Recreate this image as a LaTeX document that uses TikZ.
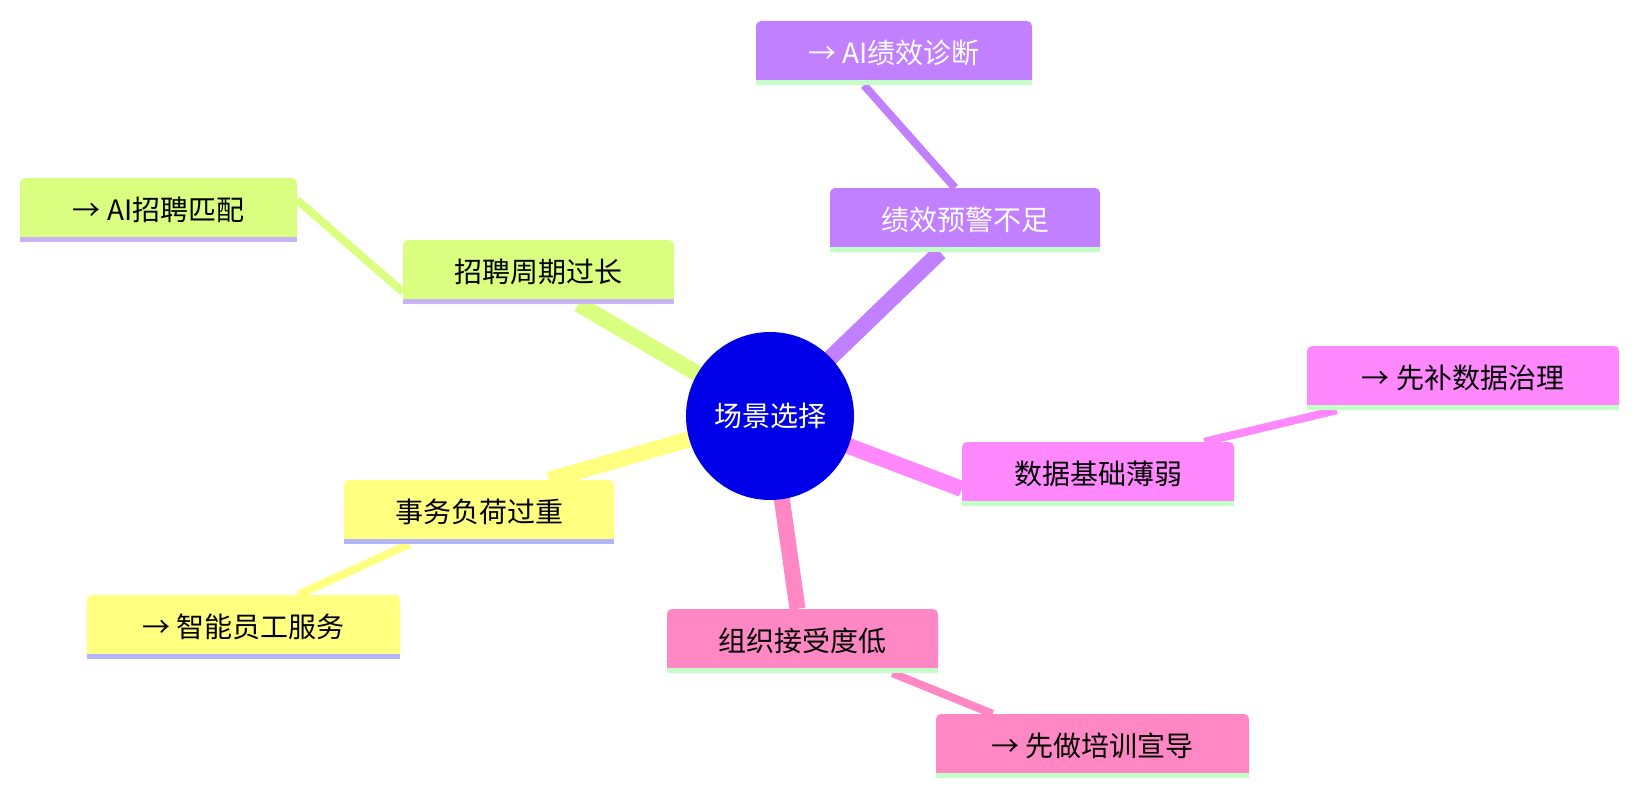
\documentclass[tikz,border=0pt]{standalone}
\usepackage{fontspec}
\setmainfont{Noto Sans CJK SC}
\usetikzlibrary{backgrounds}
\definecolor{cpur}{HTML}{C080FF}
\definecolor{cgrn}{HTML}{DAFF80}
\definecolor{cyel}{HTML}{FFFF80}
\definecolor{cpnk}{HTML}{FF88C4}
\definecolor{cmag}{HTML}{FF88FF}
\definecolor{ulg}{HTML}{C4FFC8}
\definecolor{ulp}{HTML}{C8B4F4}
\definecolor{ulb}{HTML}{B4B4F8}
\definecolor{cblue}{HTML}{0000E8}
\tikzset{
 box/.style={fill=#1,rounded corners=5pt,minimum height=64pt,inner sep=0pt,font=\fontsize{28}{30}\selectfont},
 main/.style={line width=16pt},
 sub/.style={line width=8pt},
}
\newcommand{\ul}[2]{\fill[#2] (#1.south west) rectangle ([yshift=5pt]#1.south east);}
\begin{document}
\begin{tikzpicture}[x=1pt,y=-1pt]
\useasboundingbox (0,0) rectangle (1639,800);
\node[circle,fill=cblue,minimum size=168pt,text=white,font=\fontsize{28}{30}\selectfont] (c) at (770,416) {场景选择};
\node[box=cpur,minimum width=270pt,text=white] (p1) at (965,220) {绩效预警不足};
\node[box=cpur,minimum width=276pt,text=white] (p2) at (894,53) {→ AI绩效诊断};
\node[box=cgrn,minimum width=271pt] (g1) at (538.5,272) {招聘周期过长};
\node[box=cgrn,minimum width=277pt] (g2) at (158.5,210) {→ AI招聘匹配};
\node[box=cyel,minimum width=270pt] (y1) at (479,512) {事务负荷过重};
\node[box=cyel,minimum width=313pt] (y2) at (243.5,627) {→ 智能员工服务};
\node[box=cpnk,minimum width=271pt] (k1) at (802.5,641) {组织接受度低};
\node[box=cpnk,minimum width=313pt] (k2) at (1092.5,746) {→ 先做培训宣导};
\node[box=cmag,minimum width=272pt] (m1) at (1098,474) {数据基础薄弱};
\node[box=cmag,minimum width=312pt] (m2) at (1463,378) {→ 先补数据治理};
\ul{p1}{ulg}\ul{p2}{ulg}\ul{g1}{ulp}\ul{g2}{ulp}\ul{y1}{ulb}\ul{y2}{ulb}
\ul{k1}{ulg}\ul{k2}{ulg}\ul{m1}{ulg}\ul{m2}{ulg}
\begin{pgfonlayer}{background}
\draw[main,cpur] (c.center) -- ([xshift=-25pt]p1.south);
\draw[main,cgrn] (c.center) -- ([xshift=40pt]g1.south);
\draw[main,cyel] (c.center) -- ([xshift=70pt]y1.north);
\draw[main,cpnk] (c.center) -- ([xshift=-5pt]k1.north);
\draw[main,cmag] (c.center) -- ([yshift=-15pt]m1.west);
\draw[sub,cpur] ([xshift=-10pt]p1.north) -- ([xshift=-30pt]p2.south);
\draw[sub,cgrn] ([yshift=-20pt]g1.west) -- ([yshift=10pt]g2.east);
\draw[sub,cyel] ([xshift=-70pt]y1.south) -- ([xshift=55pt]y2.north);
\draw[sub,cpnk] ([xshift=90pt]k1.south) -- ([xshift=-100pt]k2.north);
\draw[sub,cmag] ([xshift=-30pt]m1.north east) -- ([xshift=30pt]m2.south west);
\end{pgfonlayer}
\end{tikzpicture}
\end{document}
